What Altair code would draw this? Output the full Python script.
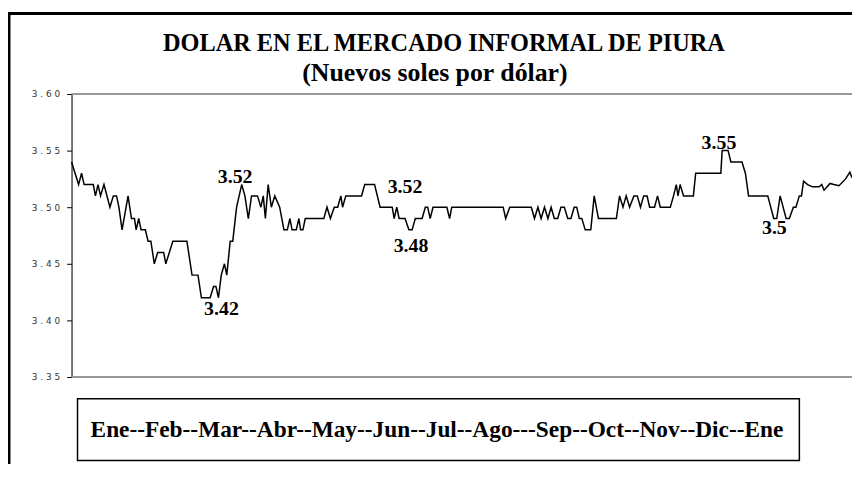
import altair as alt
import pandas as pd

# Serie diaria (día del periodo, nuevos soles por dólar)
dias = [0, 3.3, 4.7, 5.9, 10.2, 11.2, 12.4, 13.6, 15.2, 18.0, 19.6, 21.1, 22.2, 23.7, 26.5,
        28.1, 29.5, 30.3, 31.5, 32.6, 34.6, 35.9, 37.2, 38.8, 40.4, 43.2, 44.2, 47.5, 54.1,
        56.5, 59.3, 60.9, 65.0, 66.6, 67.7, 68.9, 70.2, 71.7, 72.8, 74.4, 75.6, 77.4, 79.8,
        81.3, 82.9, 84.4, 87.2, 88.8, 89.9, 90.9, 92.2, 93.7, 95.3, 97.6, 99.6, 101.2, 102.4,
        103.4, 105.4, 106.6, 107.4, 108.5, 109.6, 118.3, 119.8, 121.4, 123.2, 124.8, 126.3,
        127.1, 128.6, 136.0, 137.5, 142.1, 144.7, 150.4, 151.3, 152.5, 153.6, 156.4, 158.2,
        159.7, 161.2, 164.4, 165.9, 167.0, 168.2, 169.5, 176.0, 177.3, 178.3, 202.4, 203.6,
        205.5, 215.6, 217.1, 218.7, 220.2, 221.8, 223.4, 224.9, 226.4, 228.0, 229.5, 231.1,
        232.7, 234.2, 235.7, 236.9, 238.1, 239.3, 240.9, 243.5, 245.1, 247.1, 255.5, 257.0,
        258.6, 260.1, 261.7, 263.7, 265.3, 266.8, 268.3, 269.9, 271.1, 273.4, 274.8, 276.1,
        280.8, 282.3, 283.6, 284.4, 285.4, 287.0, 291.6, 292.7, 304.5, 305.1, 307.9, 309.2,
        314.4, 316.0, 317.5, 326.5, 329.3, 330.7, 332.3, 335.1, 336.6, 338.5, 339.7, 341.3,
        342.3, 343.3, 345.2, 347.5, 350.6, 351.8, 352.9, 355.7, 357.5, 359.9, 363.0, 365.0, 366]
tasas = [3.54, 3.52, 3.53, 3.52, 3.52, 3.51, 3.52, 3.51, 3.52, 3.50, 3.51, 3.51, 3.50, 3.48, 3.51,
         3.49, 3.49, 3.48, 3.49, 3.48, 3.48, 3.47, 3.47, 3.45, 3.46, 3.46, 3.45, 3.47, 3.47,
         3.44, 3.44, 3.42, 3.42, 3.43, 3.43, 3.42, 3.44, 3.45, 3.44, 3.47, 3.47, 3.50, 3.52,
         3.51, 3.49, 3.51, 3.51, 3.50, 3.51, 3.49, 3.52, 3.50, 3.51, 3.50, 3.48, 3.48, 3.49,
         3.48, 3.48, 3.49, 3.48, 3.48, 3.49, 3.49, 3.50, 3.49, 3.50, 3.50, 3.51,
         3.50, 3.51, 3.51, 3.52, 3.52, 3.50, 3.50, 3.49, 3.50, 3.49, 3.49, 3.48,
         3.48, 3.49, 3.49, 3.50, 3.50, 3.49, 3.50, 3.50, 3.49, 3.50, 3.50, 3.49,
         3.50, 3.50, 3.49, 3.50, 3.49, 3.50, 3.49, 3.50, 3.49, 3.49, 3.50, 3.50,
         3.49, 3.49, 3.50, 3.50, 3.49, 3.49, 3.48, 3.48, 3.51, 3.49, 3.49, 3.51,
         3.50, 3.51, 3.50, 3.51, 3.51, 3.50, 3.51, 3.51, 3.50, 3.50, 3.51, 3.50,
         3.50, 3.51, 3.52, 3.51, 3.52, 3.51, 3.51, 3.53, 3.53, 3.55, 3.55, 3.54,
         3.54, 3.53, 3.51, 3.51, 3.49, 3.49, 3.51, 3.49, 3.49, 3.50, 3.50, 3.51,
         3.51, 3.523, 3.52, 3.518, 3.518, 3.52, 3.515, 3.521, 3.52, 3.519, 3.525, 3.531, 3.526]

# Etiquetas de valores destacados
etiquetas = ["3.52", "3.42", "3.52", "3.48", "3.55", "3.5"]
etq_dia = [76.7, 70.3, 156.4, 159.2, 303.6, 329.6]
etq_val = [3.5266, 3.4096, 3.5175, 3.4658, 3.557, 3.4816]

ticks_y = [3.35, 3.40, 3.45, 3.50, 3.55, 3.60]
limites = [3.35, 3.60]

titulo = ["DOLAR EN EL MERCADO INFORMAL DE PIURA"]
subtitulo = ["(Nuevos soles por dólar)"]
meses = ["Ene--Feb--Mar--Abr--May--Jun--Jul--Ago---Sep--Oct--Nov--Dic--Ene"]

SERIF = "Liberation Serif"

df = pd.DataFrame({"dia": dias, "tasa": tasas})
df_etq = pd.DataFrame({"dia": etq_dia, "tasa": etq_val, "txt": etiquetas})
df_lim = pd.DataFrame({"tasa": limites})

x_scale = alt.Scale(domain=[0, 366], nice=False, zero=False)
y_scale = alt.Scale(domain=[3.35, 3.60], nice=False, zero=False)
y_axis = alt.Axis(
    values=ticks_y, title=None, grid=False, domainColor="black", domainWidth=1,
    tickColor="black", tickSize=5, labelFont="DejaVu Sans", labelFontSize=9,
    labelColor="#333333", labelPadding=7,
    labelExpr="join(split(format(datum.value, '.2f'), ''), ' ')",
)


def yenc():
    return alt.Y("tasa:Q", scale=y_scale, axis=y_axis)


frame = alt.Chart(pd.DataFrame({"k": [0]})).mark_rect(
    fill="transparent", stroke="black", strokeWidth=3
).encode(x=alt.value(-63), x2=alt.value(1000), y=alt.value(-81), y2=alt.value(700))

rules = alt.Chart(df_lim).mark_rule(color="#999999", strokeWidth=2).encode(y=yenc())

line = alt.Chart(df).mark_line(color="black", strokeWidth=1.5).encode(
    x=alt.X("dia:Q", scale=x_scale, axis=None),
    y=yenc(),
)

labels = alt.Chart(df_etq).mark_text(
    font=SERIF, fontWeight="bold", fontSize=20, color="black", align="center", baseline="middle"
).encode(
    x=alt.X("dia:Q", scale=x_scale, axis=None),
    y=yenc(),
    text="txt:N",
)

t1 = alt.Chart(pd.DataFrame({"t": titulo})).mark_text(
    font=SERIF, fontWeight="bold", fontSize=24.5, align="center", baseline="middle"
).encode(x=alt.value(375), y=alt.value(-50), text="t:N")

t2 = alt.Chart(pd.DataFrame({"t": subtitulo})).mark_text(
    font=SERIF, fontWeight="bold", fontSize=26, align="center", baseline="middle"
).encode(x=alt.value(366), y=alt.value(-21), text="t:N")

box = alt.Chart(pd.DataFrame({"k": [0]})).mark_rect(
    fill="white", stroke="black", strokeWidth=1.5
).encode(x=alt.value(6), x2=alt.value(733), y=alt.value(307), y2=alt.value(369))

box_txt = alt.Chart(pd.DataFrame({"t": meses})).mark_text(
    font=SERIF, fontWeight="bold", fontSize=23.5, align="center", baseline="middle"
).encode(x=alt.value(368), y=alt.value(338), text="t:N")

chart = alt.layer(rules, frame, line, labels, t1, t2, box, box_txt).properties(
    width=786,
    height=285,
    autosize=alt.AutoSizeParams(type="none"),
    padding={"left": 64, "top": 85, "right": 0, "bottom": 86},
).configure_view(stroke=None).configure(background="white")

chart.save("out.html", embed_options={"renderer": "svg", "actions": False})
